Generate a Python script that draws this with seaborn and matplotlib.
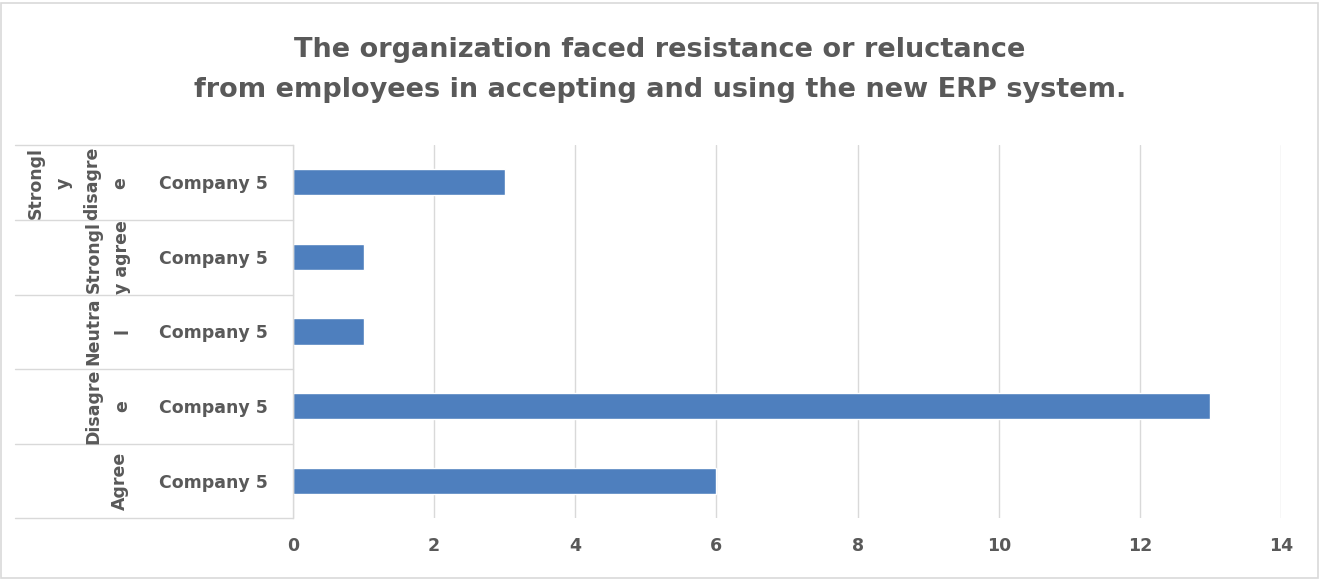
import matplotlib
matplotlib.use("Agg")
import matplotlib.pyplot as plt
import seaborn as sns
import pandas as pd
from matplotlib.lines import Line2D
from matplotlib.patches import Rectangle

groups = ["Strongly disagree", "Strongly agree", "Neutral", "Disagree", "Agree"]
group_labels = ["Strongl\ny\ndisagre\ne", "Strongl\ny agree", "Neutra\nl", "Disagre\ne", "Agree"]
company = "Company 5"
values = [3, 1, 1, 13, 6]
xticks = [0, 2, 4, 6, 8, 10, 12, 14]
title = "The organization faced resistance or reluctance\nfrom employees in accepting and using the new ERP system."

W, H = 1321, 579
sns.set_theme(style="white")
plt.rcParams['font.family'] = ['DejaVu Sans']

fig = plt.figure(figsize=(W / 100, H / 100), dpi=100)
L, R, T, B = 293, 1281, 145, 518
ax = fig.add_axes([L / W, 1 - B / H, (R - L) / W, (B - T) / H])

df = pd.DataFrame({"group": groups, "value": values})
sns.barplot(data=df, x="value", y="group", order=groups, color="#4E7FBE",
            saturation=1, width=0.35, ax=ax)

gray = "#595959"
ax.set_xlim(0, 14)
ax.set_xticks(xticks)
ax.set_xticklabels([str(t) for t in xticks], fontsize=12.5, fontweight="bold", color=gray)
ax.set_yticks(range(len(groups)))
ax.set_yticklabels([company] * len(groups), fontsize=12.5, fontweight="bold", color=gray)
ax.tick_params(axis="y", length=0, pad=18)
ax.tick_params(axis="x", length=0, pad=14)
ax.set_xlabel("")
ax.set_ylabel("")
ax.grid(axis="x", color="#D9D9D9", linewidth=1)
ax.set_axisbelow(True)
for s in ["top", "right", "bottom"]:
    ax.spines[s].set_visible(False)
ax.spines["left"].set_color("#D9D9D9")
ax.spines["left"].set_linewidth(1)

# category separators
for yp in [145, 220, 295, 369, 444, 518]:
    fig.add_artist(Line2D([15 / W, L / W], [1 - yp / H, 1 - yp / H],
                          color="#D9D9D9", linewidth=1))

# group labels
centers_x = [78, 108, 108, 108, 120]
centers_y = [183, 257, 331, 406, 481]
for lab, cx, cy in zip(group_labels, centers_x, centers_y):
    fig.text(cx / W, 1 - cy / H, lab, rotation=90, ha="center", va="center",
             fontsize=12.5, fontweight="bold", color=gray, linespacing=1.75,
             multialignment="center")

fig.text(660 / W, 1 - 70 / H, title, ha="center", va="center", fontsize=19.5,
         fontweight="bold", color=gray, linespacing=1.72)

fig.add_artist(Rectangle((1 / W, 1 / H), (W - 4) / W, (H - 4) / H,
                         fill=False, edgecolor="#D9D9D9", linewidth=1.2,
                         transform=fig.transFigure))

fig.savefig("out.png", dpi=100, facecolor="white")
